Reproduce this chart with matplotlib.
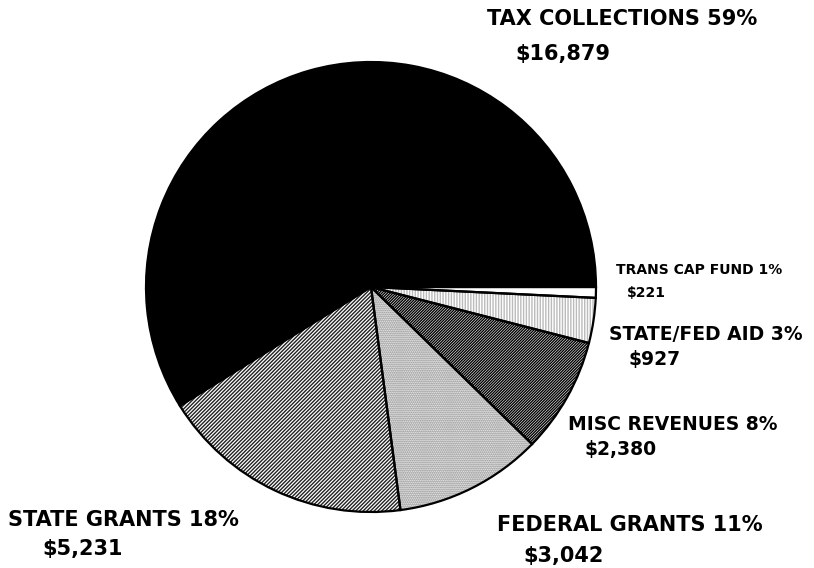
import matplotlib.pyplot as plt
import numpy as np

# revenue sources (thousands)
labels = ['TAX COLLECTIONS', 'STATE GRANTS', 'FEDERAL GRANTS',
          'MISC REVENUES', 'STATE/FED AID', 'TRANS CAP FUND']
pcts = [59, 18, 11, 8, 3, 1]
amounts = [16879, 5231, 3042, 2380, 927, 221]

fills = ['black', 'white', 'white', 'white', 'white', 'white']
hatches = [None, '/' * 9, '.' * 8, '/' * 12, '|' * 6, None]
hatch_cols = ['black', '#222222', '#777777', '#000000', '#bbbbbb', 'black']

plt.rcParams['hatch.linewidth'] = 1.0

fig = plt.figure(figsize=(8.14, 5.68), dpi=100)
ax = fig.add_axes([0, 0, 1, 1])

# hatched fill first, then black outlines on top
wedges, _ = ax.pie(amounts, startangle=0, counterclock=True,
                   center=(371, 281), radius=225, colors=fills,
                   wedgeprops=dict(linewidth=0))
for w, h, hc in zip(wedges, hatches, hatch_cols):
    if h:
        w.set_hatch(h)
        w.set_edgecolor(hc)
        w.set_linewidth(0)
outl, _ = ax.pie(amounts, startangle=0, counterclock=True,
                 center=(371, 281), radius=225,
                 wedgeprops=dict(fill=False, edgecolor='black', linewidth=1.6))
ax.set_xlim(0, 814)
ax.set_ylim(0, 568)
ax.set_aspect('equal')
ax.axis('off')

# label positions in pixels: (x1, y1, x2, y2, fontsize)
pos = [(487, 19, 515, 54, 15),
       (8, 520, 42, 549, 15),
       (497, 525, 523, 556, 15),
       (568, 424, 585, 449, 13.5),
       (609, 335, 628, 360, 13.5),
       (616, 270, 627, 293, 10)]
for lab, p, amt, (x1, y1, x2, y2, fs) in zip(labels, pcts, amounts, pos):
    ax.text(x1, 568 - y1, f'{lab} {p}%', fontsize=fs, fontweight='bold',
            family='DejaVu Sans', ha='left', va='center')
    ax.text(x2, 568 - y2, f'${amt:,}', fontsize=fs, fontweight='bold',
            family='DejaVu Sans', ha='left', va='center')

fig.savefig('out.png', dpi=100)
